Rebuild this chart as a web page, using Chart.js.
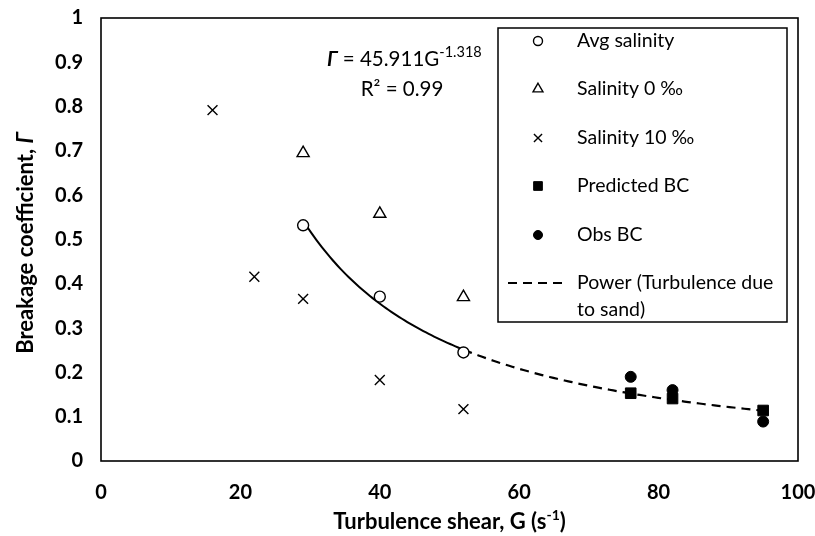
<!DOCTYPE html>
<html>
<head>
<meta charset="utf-8">
<script src="https://cdn.jsdelivr.net/npm/chart.js@4.4.1/dist/chart.umd.min.js"></script>
<style>
  html, body { margin: 0; padding: 0; background: #ffffff; }
  #wrap { width: 815px; height: 536px; }
</style>
</head>
<body>
<div id="wrap"><canvas id="c" width="815" height="536"></canvas></div>
<script>
// Breakage coefficient measurements against turbulence shear G (s^-1)
const avgG = [29, 40, 52];
const avgBC = [0.532, 0.371, 0.245];
const sal0G = [29, 40, 52];
const sal0BC = [0.695, 0.558, 0.370];
const sal10G = [16, 22, 29, 40, 52];
const sal10BC = [0.792, 0.416, 0.366, 0.183, 0.117];
const predG = [76, 82, 95];
const predBC = [0.153, 0.141, 0.114];
const obsG = [76, 82, 95];
const obsBC = [0.190, 0.160, 0.089];

// Power-law trend  BC = a * G^b  fitted to the average-salinity points
const fitA = 45.911;
const fitB = -1.318;
const fitR2 = 0.99;
const fitRange = [29, 52];     // solid part over the measured range
const sandRange = [52, 95];    // dashed extension for sand-driven turbulence

const xTickValues = [0, 20, 40, 60, 80, 100];
const yTickLabels = ['0', '0.1', '0.2', '0.3', '0.4', '0.5', '0.6', '0.7', '0.8', '0.9', '1'];

const FONT = 'Lato, "Open Sans", "DejaVu Sans", sans-serif';

function pts(xs, ys) { return xs.map((x, i) => ({ x: x, y: ys[i] })); }
function trend(range, steps) {
  const out = [];
  for (let i = 0; i <= steps; i++) {
    const g = range[0] + (range[1] - range[0]) * i / steps;
    out.push({ x: g, y: fitA * Math.pow(g, fitB) });
  }
  return out;
}

const datasets = [
  { label: 'Avg salinity', data: pts(avgG, avgBC), pointStyle: 'circle', pointRadius: 5.5,
    backgroundColor: '#ffffff', borderColor: '#000000', pointBorderWidth: 1.4, showLine: false },
  { label: 'Salinity 0 \u2030', data: pts(sal0G, sal0BC), pointStyle: 'triangle', pointRadius: 7,
    backgroundColor: 'rgba(255,255,255,0)', borderColor: '#000000', pointBorderWidth: 1.4, showLine: false },
  { label: 'Salinity 10 \u2030', data: pts(sal10G, sal10BC), pointStyle: 'crossRot', pointRadius: 7,
    backgroundColor: '#000000', borderColor: '#000000', pointBorderWidth: 1.4, showLine: false },
  { label: 'Predicted BC', data: pts(predG, predBC), pointStyle: 'rect', pointRadius: 7.5,
    backgroundColor: '#000000', borderColor: '#000000', pointBorderWidth: 1, showLine: false },
  { label: 'Obs BC', data: pts(obsG, obsBC), pointStyle: 'circle', pointRadius: 5.5,
    backgroundColor: '#000000', borderColor: '#000000', pointBorderWidth: 1, showLine: false },
  { label: 'Power fit', data: trend(fitRange, 60), showLine: true, pointRadius: 0,
    borderColor: '#000000', borderWidth: 2, fill: false, tension: 0, order: 5 },
  { label: 'Power (Turbulence due to sand)', data: trend(sandRange, 80), showLine: true, pointRadius: 0,
    borderColor: '#000000', borderWidth: 2.2, borderDash: [9, 6], fill: false, tension: 0, order: 5 }
];

// Frame around the plotting area
const frame = {
  id: 'frame',
  afterDraw(chart) {
    const { ctx, chartArea: a } = chart;
    ctx.save();
    ctx.strokeStyle = '#000000';
    ctx.lineWidth = 1.6;
    ctx.strokeRect(a.left, a.top, a.right - a.left, a.bottom - a.top);
    ctx.restore();
  }
};

// Axis titles with mixed styles (italic Gamma, superscript exponent)
const titles = {
  id: 'titles',
  afterDraw(chart) {
    const { ctx, chartArea: a } = chart;
    ctx.save();
    ctx.fillStyle = '#000000';
    ctx.textBaseline = 'middle';
    // x title
    const base = 'bold 22px ' + FONT;
    const sup = 'bold 14px ' + FONT;
    const p1 = 'Turbulence shear, G (s', p2 = '-1', p3 = ')';
    ctx.font = base; const w1 = ctx.measureText(p1).width, w3 = ctx.measureText(p3).width;
    ctx.font = sup; const w2 = ctx.measureText(p2).width;
    let x = (a.left + a.right) / 2 - (w1 + w2 + w3) / 2;
    const y = 522;
    ctx.textAlign = 'left';
    ctx.font = base; ctx.fillText(p1, x, y); x += w1;
    ctx.font = sup; ctx.fillText(p2, x, y - 7); x += w2;
    ctx.font = base; ctx.fillText(p3, x, y);
    // y title
    const q1 = 'Breakage coefficient, ', q2 = '\u0393';
    const it = 'italic bold 22px ' + FONT;
    ctx.font = base; const v1 = ctx.measureText(q1).width;
    ctx.font = it; const v2 = ctx.measureText(q2).width;
    ctx.translate(26, 243);
    ctx.rotate(-Math.PI / 2);
    let s = -(v1 + v2) / 2;
    ctx.font = base; ctx.fillText(q1, s, 0); s += v1;
    ctx.font = it; ctx.fillText(q2, s, 0);
    ctx.restore();
  }
};

// Trend equation and R-squared
const equation = {
  id: 'equation',
  afterDraw(chart) {
    const { ctx } = chart;
    ctx.save();
    ctx.fillStyle = '#000000';
    ctx.textBaseline = 'middle';
    ctx.textAlign = 'left';
    const f = '20.5px ' + FONT, fi = 'italic bold 20.5px ' + FONT, fs = '14.5px ' + FONT;
    const g = '\u0393', e1 = ' = ' + fitA.toFixed(3) + 'G', e2 = fitB.toFixed(3);
    let x = 327; const y = 59;
    ctx.font = fi; ctx.fillText(g, x, y); x += ctx.measureText(g).width;
    ctx.font = f; ctx.fillText(e1, x, y); x += ctx.measureText(e1).width;
    ctx.font = fs; ctx.fillText(e2, x, y - 7);
    ctx.font = f; ctx.textAlign = 'center';
    ctx.fillText('R\u00B2 = ' + fitR2.toFixed(2), 402, 89);
    ctx.restore();
  }
};

// Boxed legend inside the plot
const legendBox = {
  id: 'legendBox',
  afterDraw(chart) {
    const { ctx } = chart;
    const left = 498, top = 28, right = 787, bottom = 322;
    ctx.save();
    ctx.fillStyle = '#ffffff';
    ctx.fillRect(left, top, right - left, bottom - top);
    ctx.strokeStyle = '#000000';
    ctx.lineWidth = 1.5;
    ctx.strokeRect(left, top, right - left, bottom - top);
    const rows = [41, 89, 138, 186, 235];
    const symX = 538, textX = 577;
    ctx.font = '19.5px ' + FONT;
    ctx.textBaseline = 'middle';
    ctx.textAlign = 'left';
    ctx.fillStyle = '#000000';
    for (let i = 0; i < 5; i++) {
      const ds = chart.data.datasets[i];
      ctx.save();
      ctx.fillStyle = ds.backgroundColor;
      ctx.strokeStyle = ds.borderColor;
      ctx.lineWidth = ds.pointBorderWidth;
      Chart.helpers.drawPoint(ctx, { pointStyle: ds.pointStyle, radius: ds.pointRadius * 0.82,
        rotation: 0, borderWidth: ds.pointBorderWidth }, symX, rows[i]);
      ctx.restore();
      ctx.fillStyle = '#000000';
      ctx.fillText(ds.label, textX, rows[i]);
    }
    const ly = 283;
    ctx.save();
    ctx.strokeStyle = '#000000';
    ctx.lineWidth = 2.2;
    ctx.setLineDash([9, 6]);
    ctx.beginPath(); ctx.moveTo(508, ly); ctx.lineTo(568, ly); ctx.stroke();
    ctx.restore();
    ctx.fillText('Power (Turbulence due', textX, ly);
    ctx.fillText('to sand)', textX, ly + 27);
    ctx.restore();
  }
};

new Chart(document.getElementById('c'), {
  type: 'scatter',
  data: { datasets: datasets },
  options: {
    responsive: false,
    animation: false,
    devicePixelRatio: 1,
    layout: { padding: { top: 18, right: 17, left: 0, bottom: 0 } },
    plugins: { legend: { display: false }, tooltip: { enabled: false } },
    scales: {
      x: {
        type: 'linear', min: 0, max: 100,
        afterBuildTicks(scale) { scale.ticks = xTickValues.map(v => ({ value: v })); },
        afterFit(scale) { scale.height = 75; scale.paddingLeft = 0; scale.paddingRight = 0; },
        grid: { display: false, drawTicks: false },
        border: { display: false },
        ticks: { padding: 20, color: '#000000', maxRotation: 0, font: { family: FONT, size: 20, weight: 'bold' },
          callback: v => String(v) }
      },
      y: {
        type: 'linear', min: 0, max: 1,
        afterBuildTicks(scale) { scale.ticks = yTickLabels.map(t => ({ value: parseFloat(t) })); },
        afterFit(scale) { scale.width = 101; scale.paddingTop = 0; scale.paddingBottom = 0; },
        grid: { display: false, drawTicks: false },
        border: { display: false },
        ticks: { padding: 18, color: '#000000', font: { family: FONT, size: 20, weight: 'bold' },
          callback: (v, i) => yTickLabels[i] }
      }
    }
  },
  plugins: [frame, titles, equation, legendBox]
});
</script>
</body>
</html>
